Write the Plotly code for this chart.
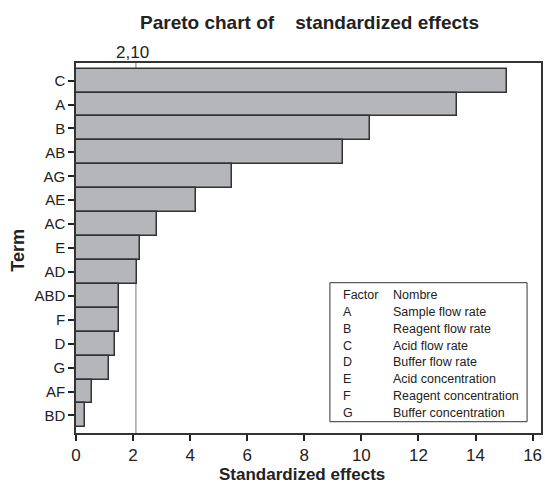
import plotly.graph_objects as go

terms = ["C", "A", "B", "AB", "AG", "AE", "AC", "E", "AD", "ABD", "F", "D", "G", "AF", "BD"]
effects = [15.09, 13.36, 10.29, 9.37, 5.48, 4.22, 2.84, 2.24, 2.15, 1.52, 1.49, 1.35, 1.14, 0.57, 0.32]
critical = 2.10
critical_label = "2,10"

factor_codes = ["A", "B", "C", "D", "E", "F", "G"]
factor_names = ["Sample flow rate", "Reagent flow rate", "Acid flow rate", "Buffer flow rate",
                "Acid concentration", "Reagent concentration", "Buffer concentration"]

FONT = "Liberation Sans, Arial, sans-serif"
W, H = 545, 483
ML, MR, MT, MB = 76, 2, 63, 50
PW, PH = W - ML - MR, H - MT - MB


def px_x(p):
    return (p - ML) / PW


def px_y(p):
    return (H - MB - p) / PH


fig = go.Figure()
fig.add_trace(go.Bar(
    x=effects, y=terms, orientation="h", width=1,
    marker=dict(color="#b5b6ba", line=dict(color="#333333", width=1.5)),
))

fig.add_shape(type="line", xref="x", yref="paper", x0=critical, x1=critical, y0=0, y1=1,
              line=dict(color="#777777", width=1), layer="below")

annotations = [
    dict(text=critical_label, x=critical, xref="x", y=1, yref="paper", yanchor="middle",
         yshift=11, xshift=-3, showarrow=False, font=dict(family=FONT, size=17, color="#222")),
    dict(text="<b>Standardized effects</b>", x=px_x(303), xref="paper", y=px_y(474.5), yref="paper",
         xanchor="center", yanchor="middle", showarrow=False, font=dict(family=FONT, size=17, color="#222")),
    dict(text="<b>Term</b>", x=px_x(17.5), xref="paper", y=px_y(250), yref="paper", textangle=-90,
         xanchor="center", yanchor="middle", showarrow=False, font=dict(family=FONT, size=18, color="#222")),
]

# legend box
fig.add_shape(type="rect", xref="paper", yref="paper", x0=px_x(331), x1=px_x(529),
              y0=px_y(421.7), y1=px_y(282.7), line=dict(color="#333333", width=1),
              fillcolor="white", layer="above")
rows = [("Factor", "Nombre")] + list(zip(factor_codes, factor_names))
for i, (code, name) in enumerate(rows):
    yy = px_y(295.4 + i * 16.75)
    annotations.append(dict(text=code, x=px_x(341.7), xref="paper", y=yy, yref="paper",
                            xanchor="left", yanchor="middle", showarrow=False,
                            font=dict(family=FONT, size=12.5, color="#222")))
    annotations.append(dict(text=name, x=px_x(392.7), xref="paper", y=yy, yref="paper",
                            xanchor="left", yanchor="middle", showarrow=False,
                            font=dict(family=FONT, size=12.5, color="#222")))

n = len(terms)
fig.update_layout(
    width=W, height=H,
    margin=dict(l=ML, r=MR, t=MT, b=MB, pad=0),
    paper_bgcolor="white", plot_bgcolor="white",
    showlegend=False, bargap=0,
    title=dict(text="<b>Pareto chart of\u00a0\u00a0\u00a0 standardized effects</b>",
               x=309.5 / W, xanchor="center", y=1 - 22.5 / H, yanchor="middle",
               font=dict(family=FONT, size=19, color="#222")),
    xaxis=dict(range=[0, PW / 28.66], tickvals=list(range(0, 17, 2)), ticks="outside",
               ticklen=6, tickwidth=1.5, tickcolor="#222", showgrid=False, zeroline=False,
               showline=True, linecolor="#333333", linewidth=1.5, mirror=True,
               tickfont=dict(family=FONT, size=17, color="#222")),
    yaxis=dict(type="category", categoryorder="array", categoryarray=terms,
               range=[n - 0.5 + 0.235, -0.5 - 0.235], ticks="outside", ticklen=6, tickwidth=1.5,
               tickcolor="#222", showgrid=False, zeroline=False, showline=True,
               linecolor="#333333", linewidth=1.5, mirror=True,
               tickfont=dict(family=FONT, size=15, color="#222")),
    annotations=annotations,
)

fig.write_html("out.html")
